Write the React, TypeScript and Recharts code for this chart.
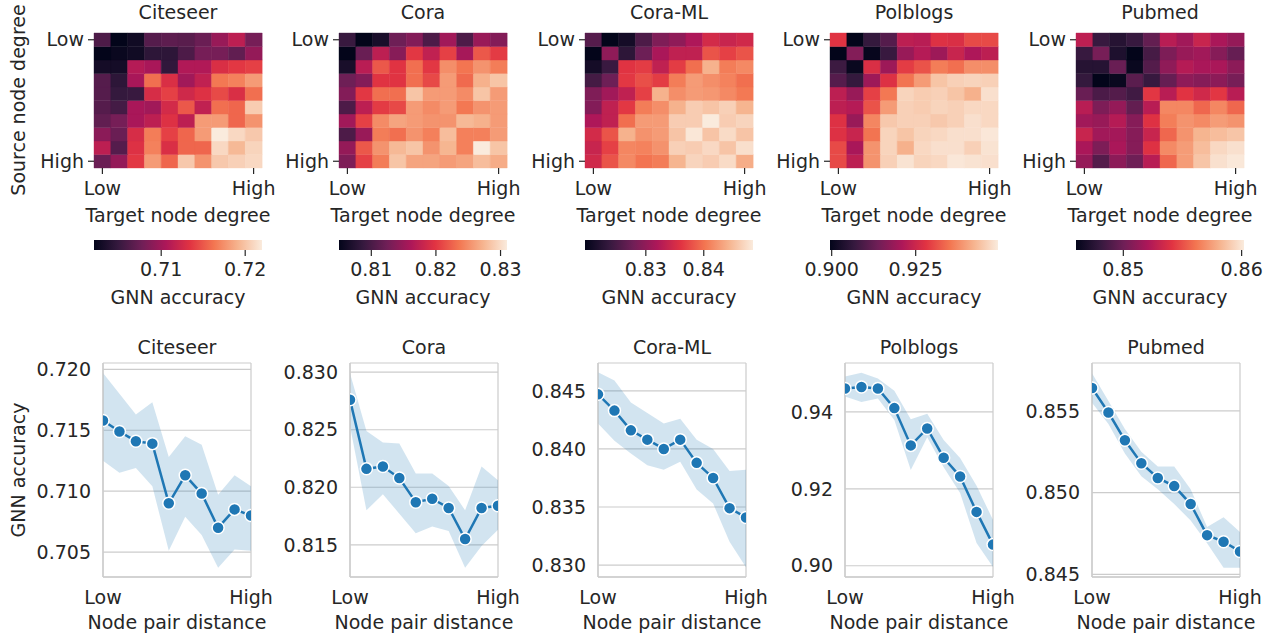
import React from "react";
import {
  BarChart,
  Bar,
  Cell,
  XAxis,
  YAxis,
  ComposedChart,
  Line,
  Area,
  CartesianGrid,
  ReferenceArea,
} from "recharts";

const datasets = ["Citeseer", "Cora", "Cora-ML", "Polblogs", "Pubmed"];

// heatmaps: rows = source node degree (Low -> High), cols = target node degree (Low -> High)
const citeseerHeat = [
  [0.706, 0.702, 0.7028, 0.7064, 0.7068, 0.7066, 0.7074, 0.7096, 0.7114, 0.708],
  [0.702, 0.7024, 0.7028, 0.7044, 0.7044, 0.706, 0.708, 0.708, 0.707, 0.7094],
  [0.703, 0.703, 0.711, 0.7104, 0.7046, 0.7108, 0.7108, 0.713, 0.7136, 0.714],
  [0.7064, 0.7044, 0.7104, 0.716, 0.713, 0.71, 0.7116, 0.7164, 0.7168, 0.718],
  [0.7064, 0.7048, 0.705, 0.7128, 0.714, 0.7124, 0.7132, 0.7144, 0.713, 0.716],
  [0.7064, 0.7056, 0.7104, 0.71, 0.7126, 0.715, 0.7116, 0.716, 0.7156, 0.7204],
  [0.707, 0.708, 0.7104, 0.7114, 0.7132, 0.7114, 0.718, 0.718, 0.7156, 0.7176],
  [0.709, 0.7074, 0.7128, 0.7166, 0.714, 0.7156, 0.718, 0.722, 0.721, 0.7202],
  [0.7114, 0.7064, 0.7132, 0.7168, 0.713, 0.7156, 0.7156, 0.721, 0.7194, 0.7208],
  [0.7074, 0.7094, 0.7136, 0.718, 0.7156, 0.7202, 0.7176, 0.7202, 0.7206, 0.721],
];
const coraHeat = [
  [0.8089, 0.805, 0.8066, 0.8123, 0.8136, 0.8102, 0.8154, 0.8102, 0.8149, 0.8136],
  [0.805, 0.812, 0.8172, 0.8138, 0.8201, 0.8175, 0.8206, 0.8157, 0.8219, 0.8203],
  [0.8066, 0.817, 0.8219, 0.8198, 0.8232, 0.8201, 0.825, 0.8235, 0.8253, 0.824],
  [0.8123, 0.8136, 0.8198, 0.8198, 0.8232, 0.8211, 0.8258, 0.8229, 0.8271, 0.8284],
  [0.8136, 0.8201, 0.8232, 0.8232, 0.8284, 0.8258, 0.8258, 0.8248, 0.8284, 0.8258],
  [0.8102, 0.8172, 0.8203, 0.8211, 0.8258, 0.8248, 0.8258, 0.8237, 0.8253, 0.8258],
  [0.8154, 0.8206, 0.8248, 0.8263, 0.8258, 0.8253, 0.8253, 0.8276, 0.8271, 0.8258],
  [0.8102, 0.8149, 0.824, 0.8232, 0.8253, 0.8242, 0.8279, 0.8242, 0.8242, 0.8258],
  [0.8146, 0.8219, 0.8253, 0.8276, 0.8284, 0.8253, 0.8274, 0.8242, 0.831, 0.8284],
  [0.8133, 0.8206, 0.824, 0.8284, 0.8263, 0.8263, 0.8258, 0.8263, 0.8279, 0.8268],
];
const coraMlHeat = [
  [0.8259, 0.8195, 0.821, 0.8253, 0.8288, 0.8299, 0.832, 0.8349, 0.834, 0.8346],
  [0.8195, 0.8299, 0.823, 0.8276, 0.8317, 0.8334, 0.8334, 0.8381, 0.8369, 0.8381],
  [0.821, 0.8239, 0.836, 0.8366, 0.8334, 0.8366, 0.8398, 0.8442, 0.8407, 0.8415],
  [0.8247, 0.8276, 0.8363, 0.8378, 0.8366, 0.8407, 0.8427, 0.8418, 0.841, 0.8398],
  [0.8288, 0.8311, 0.8334, 0.8369, 0.8442, 0.8418, 0.8427, 0.8424, 0.8415, 0.8404],
  [0.8291, 0.8334, 0.8363, 0.8407, 0.8418, 0.8442, 0.8462, 0.8456, 0.8465, 0.8444],
  [0.832, 0.8334, 0.8398, 0.8427, 0.8427, 0.8462, 0.8462, 0.8485, 0.8462, 0.8468],
  [0.8349, 0.8381, 0.8442, 0.8421, 0.8427, 0.8456, 0.8482, 0.8456, 0.8473, 0.8456],
  [0.834, 0.8369, 0.8413, 0.841, 0.8421, 0.8465, 0.8462, 0.8471, 0.8456, 0.8476],
  [0.8346, 0.8381, 0.8415, 0.8401, 0.8407, 0.8444, 0.8468, 0.8462, 0.8473, 0.8439],
];
const polblogsHeat = [
  [0.928, 0.8995, 0.9065, 0.9105, 0.923, 0.9225, 0.9275, 0.927, 0.9305, 0.9305],
  [0.8995, 0.916, 0.9, 0.907, 0.9185, 0.922, 0.919, 0.9245, 0.921, 0.923],
  [0.9075, 0.9005, 0.927, 0.919, 0.929, 0.9315, 0.936, 0.9345, 0.938, 0.938],
  [0.9105, 0.9065, 0.919, 0.9275, 0.935, 0.9395, 0.9445, 0.946, 0.9465, 0.946],
  [0.923, 0.9185, 0.9295, 0.9355, 0.9465, 0.9455, 0.946, 0.9445, 0.942, 0.948],
  [0.923, 0.922, 0.9315, 0.9395, 0.946, 0.9455, 0.9465, 0.946, 0.947, 0.947],
  [0.9275, 0.9185, 0.937, 0.945, 0.946, 0.946, 0.945, 0.946, 0.948, 0.947],
  [0.9275, 0.9245, 0.935, 0.9465, 0.9445, 0.9465, 0.947, 0.948, 0.948, 0.949],
  [0.9305, 0.9205, 0.9385, 0.9465, 0.942, 0.947, 0.948, 0.948, 0.946, 0.9485],
  [0.9305, 0.923, 0.9385, 0.946, 0.9485, 0.9465, 0.947, 0.949, 0.9485, 0.948],
];
const pubmedHeat = [
  [0.8527, 0.8481, 0.8474, 0.8481, 0.8496, 0.8525, 0.8517, 0.8531, 0.852, 0.8513],
  [0.8481, 0.8503, 0.8471, 0.846, 0.8486, 0.8505, 0.8514, 0.8517, 0.8508, 0.8497],
  [0.8474, 0.8474, 0.8498, 0.8463, 0.8491, 0.8511, 0.8524, 0.852, 0.852, 0.851],
  [0.848, 0.846, 0.8463, 0.8493, 0.8481, 0.8497, 0.8511, 0.8508, 0.851, 0.8503],
  [0.8498, 0.8488, 0.8491, 0.8484, 0.8542, 0.8525, 0.8541, 0.8534, 0.8542, 0.8525],
  [0.8525, 0.8505, 0.8513, 0.8496, 0.8525, 0.8567, 0.8567, 0.8557, 0.8567, 0.8557],
  [0.8517, 0.8514, 0.8524, 0.8508, 0.854, 0.8564, 0.8571, 0.8568, 0.8574, 0.8571],
  [0.8531, 0.8517, 0.8518, 0.8508, 0.8531, 0.8557, 0.8571, 0.8582, 0.8585, 0.8588],
  [0.852, 0.8505, 0.852, 0.8508, 0.854, 0.8568, 0.8574, 0.8585, 0.8595, 0.8598],
  [0.8513, 0.8491, 0.851, 0.85, 0.8525, 0.8557, 0.8574, 0.8588, 0.8598, 0.8601],
];
const heatmaps = [citeseerHeat, coraHeat, coraMlHeat, polblogsHeat, pubmedHeat];

const cbarMin = [0.702, 0.805, 0.8195, 0.8995, 0.846];
const cbarMax = [0.722, 0.831, 0.8485, 0.9495, 0.8602];
const cbarTicks = [
  [0.71, 0.72],
  [0.81, 0.82, 0.83],
  [0.83, 0.84],
  [0.9, 0.925],
  [0.85, 0.86],
];
const cbarDecimals = [2, 2, 2, 3, 2];

// accuracy vs node pair distance (Low -> High), mean with confidence band
const citeseerMean = [0.7158, 0.7149, 0.7141, 0.7139, 0.709, 0.7113, 0.7098, 0.707, 0.7085, 0.708];
const citeseerLo = [0.7125, 0.7115, 0.7119, 0.7104, 0.7051, 0.7079, 0.7064, 0.7037, 0.7052, 0.7051];
const citeseerHi = [0.7197, 0.718, 0.7163, 0.7173, 0.7128, 0.7145, 0.7138, 0.7097, 0.7113, 0.7104];
const coraMean = [0.8276, 0.8216, 0.8218, 0.8208, 0.8187, 0.819, 0.8182, 0.8155, 0.8182, 0.8184];
const coraLo = [0.8253, 0.818, 0.8194, 0.8177, 0.816, 0.8166, 0.8162, 0.813, 0.8149, 0.8163];
const coraHi = [0.8299, 0.8249, 0.8239, 0.8238, 0.8212, 0.8212, 0.8201, 0.818, 0.8218, 0.8206];
const coraMlMean = [0.8447, 0.8433, 0.8416, 0.8408, 0.84, 0.8408, 0.8388, 0.8375, 0.8349, 0.8341];
const coraMlLo = [0.8422, 0.8407, 0.8396, 0.8386, 0.8382, 0.8389, 0.8365, 0.8353, 0.832, 0.8298];
const coraMlHi = [0.8466, 0.8459, 0.844, 0.8431, 0.8422, 0.8426, 0.8408, 0.84, 0.8381, 0.8382];
const polblogsMean = [0.9461, 0.9465, 0.9461, 0.941, 0.9313, 0.9357, 0.9281, 0.9232, 0.914, 0.9055];
const polblogsLo = [0.944, 0.9426, 0.9435, 0.9379, 0.9249, 0.9334, 0.9256, 0.9189, 0.9059, 0.8997];
const polblogsHi = [0.9492, 0.9502, 0.9487, 0.9455, 0.9381, 0.9395, 0.9327, 0.928, 0.9208, 0.9119];
const pubmedMean = [0.8564, 0.8549, 0.8532, 0.8518, 0.8509, 0.8504, 0.8493, 0.8474, 0.847, 0.8464];
const pubmedLo = [0.8555, 0.8542, 0.8524, 0.851, 0.8502, 0.8493, 0.8483, 0.8469, 0.8454, 0.8454];
const pubmedHi = [0.8573, 0.8556, 0.8539, 0.8525, 0.8516, 0.8516, 0.8502, 0.8479, 0.8485, 0.8476];

const lineMeans = [citeseerMean, coraMean, coraMlMean, polblogsMean, pubmedMean];
const lineLows = [citeseerLo, coraLo, coraMlLo, polblogsLo, pubmedLo];
const lineHighs = [citeseerHi, coraHi, coraMlHi, polblogsHi, pubmedHi];
const lineDomains = [
  [0.70295, 0.72052],
  [0.8122, 0.8308],
  [0.82897, 0.8474],
  [0.89707, 0.95273],
  [0.84484, 0.85793],
];
const lineTicks = [
  [0.705, 0.71, 0.715, 0.72],
  [0.815, 0.82, 0.825, 0.83],
  [0.83, 0.835, 0.84, 0.845],
  [0.9, 0.92, 0.94],
  [0.845, 0.85, 0.855],
];
const lineDecimals = [3, 3, 3, 2, 3];

// layout
const FONT = "'DejaVu Sans', sans-serif";
const FS = 19;
const INK = "#262626";
const BLUE = "#1f77b4";
const heatLeft = [94, 339, 585, 830, 1076];
const HEAT_W = 168;
const HEAT_H = 135;
const HEAT_TOP = 33;
const lineLeft = [103, 350, 598, 845, 1092];
const LINE_W = 148;
const LINE_TOP = 363;
const LINE_H = 214;

const ROCKET = ["#03051a", "#35193e", "#701f57", "#ad1759", "#e13342", "#f37651", "#f6b48f", "#faebdd"];

const hex = (h: string) => [1, 3, 5].map((i) => parseInt(h.slice(i, i + 2), 16));

function rocket(t: number) {
  const u = Math.max(0, Math.min(1, t)) * (ROCKET.length - 1);
  const i = Math.min(ROCKET.length - 2, Math.floor(u));
  const f = u - i;
  const a = hex(ROCKET[i]);
  const b = hex(ROCKET[i + 1]);
  const c = a.map((v, k) => Math.round(v + (b[k] - v) * f));
  return `rgb(${c[0]},${c[1]},${c[2]})`;
}

const rows = [9, 8, 7, 6, 5, 4, 3, 2, 1, 0];
const heatCols = [0, 1, 2, 3, 4, 5, 6, 7, 8, 9].map((c) => {
  const o: Record<string, number> = { col: c };
  rows.forEach((r) => (o[`r${r}`] = 1));
  return o;
});

const Txt = ({ x, y, rotate, children }: any) => (
  <div
    style={{
      position: "absolute",
      left: x,
      top: y,
      transform: `translate(-50%, -50%)${rotate ? " rotate(-90deg)" : ""}`,
      whiteSpace: "nowrap",
      fontFamily: FONT,
      fontSize: FS,
      lineHeight: 1,
      color: INK,
    }}
  >
    {children}
  </div>
);

const HeatTick = (props: any) => {
  const { x, y, payload } = props;
  const v = payload.value;
  if (v !== 0 && v !== 9) return <g />;
  return (
    <g>
      <line x1={x} x2={x} y1={y} y2={y + 6} stroke={INK} strokeWidth={1.2} />
      <text x={x} y={y + 20} textAnchor="middle" dominantBaseline="central" fontSize={FS} fill={INK} fontFamily={FONT}>
        {v === 0 ? "Low" : "High"}
      </text>
    </g>
  );
};

const tickStyle = { fontSize: FS, fill: INK, fontFamily: FONT };

function Heatmap({ i }: { i: number }) {
  const m = heatmaps[i];
  const lo = cbarMin[i];
  const hi = cbarMax[i];
  return (
    <div style={{ position: "absolute", left: heatLeft[i] - 74, top: 0 }}>
      <BarChart
        width={74 + HEAT_W + 24}
        height={HEAT_TOP + HEAT_H + 62}
        data={heatCols}
        margin={{ top: HEAT_TOP, right: 24, bottom: 0, left: 0 }}
        barCategoryGap={0}
        barGap={0}
      >
        <XAxis dataKey="col" height={62} interval={0} tickSize={0} tickMargin={0} tickLine={false} axisLine={false} tick={<HeatTick />} />
        <YAxis
          type="number"
          width={74}
          domain={[0, 10]}
          ticks={[0.5, 9.5]}
          tickFormatter={(v: number) => (v > 5 ? "Low" : "High")}
          axisLine={false}
          tickLine={{ stroke: INK, strokeWidth: 1.2 }}
          tickSize={6}
          tickMargin={4}
          tick={tickStyle}
        />
        {rows.map((r) => (
          <Bar key={r} dataKey={`r${r}`} stackId="h" isAnimationActive={false}>
            {heatCols.map((d, c) => {
              const col = rocket((m[r][c] - lo) / (hi - lo));
              return <Cell key={c} fill={col} stroke={col} strokeWidth={0.4} />;
            })}
          </Bar>
        ))}
      </BarChart>
    </div>
  );
}

function Colorbar({ i }: { i: number }) {
  const lo = cbarMin[i];
  const hi = cbarMax[i];
  const id = `cb${i}`;
  return (
    <div style={{ position: "absolute", left: heatLeft[i] - 34, top: 230 }}>
      <ComposedChart
        width={HEAT_W + 68}
        height={80}
        data={[{ x: lo, y: 0 }, { x: hi, y: 1 }]}
        margin={{ top: 10, right: 34, bottom: 0, left: 34 }}
      >
        <defs>
          <linearGradient id={id} x1="0" x2="1" y1="0" y2="0">
            {ROCKET.map((c, k) => (
              <stop key={k} offset={k / (ROCKET.length - 1)} stopColor={c} />
            ))}
          </linearGradient>
        </defs>
        <XAxis
          dataKey="x"
          type="number"
          domain={[lo, hi]}
          ticks={cbarTicks[i]}
          allowDataOverflow
          height={60}
          axisLine={false}
          tickLine={{ stroke: INK, strokeWidth: 1.2 }}
          tickSize={6}
          tickMargin={7}
          tick={tickStyle}
          tickFormatter={(v: number) => v.toFixed(cbarDecimals[i])}
        />
        <YAxis type="number" domain={[0, 1]} hide />
        <ReferenceArea x1={lo} x2={hi} y1={0} y2={1} fill={`url(#${id})`} fillOpacity={1} stroke="none" />
        <Line dataKey="y" stroke="none" dot={false} activeDot={false} isAnimationActive={false} />
      </ComposedChart>
    </div>
  );
}

function LinePanel({ i }: { i: number }) {
  const data = lineMeans[i].map((v, k) => ({
    x: k,
    mean: v,
    band: [lineLows[i][k], lineHighs[i][k]],
  }));
  return (
    <div style={{ position: "absolute", left: lineLeft[i] - 84, top: LINE_TOP - 33 }}>
      <ComposedChart
        width={84 + LINE_W + 26}
        height={33 + LINE_H + 53}
        data={data}
        margin={{ top: 33, right: 26, bottom: 0, left: 0 }}
      >
        <CartesianGrid stroke="#cccccc" strokeWidth={1.2} />
        <XAxis
          dataKey="x"
          type="number"
          domain={[0, 9]}
          ticks={[0, 9]}
          allowDataOverflow
          height={53}
          axisLine={{ stroke: "#cccccc", strokeWidth: 1.3 }}
          tickLine={false}
          tickSize={0}
          tickMargin={14}
          tick={tickStyle}
          tickFormatter={(v: number) => (v === 0 ? "Low" : "High")}
        />
        <YAxis
          type="number"
          width={84}
          domain={lineDomains[i]}
          ticks={lineTicks[i]}
          allowDataOverflow
          axisLine={{ stroke: "#cccccc", strokeWidth: 1.3 }}
          tickLine={false}
          tickSize={0}
          tickMargin={12}
          tick={tickStyle}
          tickFormatter={(v: number) => v.toFixed(lineDecimals[i])}
        />
        <Area dataKey="band" fill={BLUE} fillOpacity={0.2} stroke="none" isAnimationActive={false} activeDot={false} />
        <Line
          dataKey="mean"
          stroke={BLUE}
          strokeWidth={2.5}
          dot={{ r: 6, fill: BLUE, stroke: "#ffffff", strokeWidth: 1.5 }}
          activeDot={false}
          isAnimationActive={false}
        />
      </ComposedChart>
    </div>
  );
}

export default function App() {
  return (
    <div style={{ position: "absolute", left: 0, top: 0, width: 1276, height: 636, background: "#fff", overflow: "hidden" }}>
      {datasets.map((name, i) => (
        <React.Fragment key={name}>
          <Heatmap i={i} />
          <Colorbar i={i} />
          <LinePanel i={i} />
          <Txt x={heatLeft[i] + HEAT_W / 2} y={12}>{name}</Txt>
          <Txt x={heatLeft[i] + HEAT_W / 2} y={215}>Target node degree</Txt>
          <Txt x={heatLeft[i] + HEAT_W / 2} y={297}>GNN accuracy</Txt>
          <Txt x={lineLeft[i] + LINE_W / 2} y={347}>{name}</Txt>
          <Txt x={lineLeft[i] + LINE_W / 2} y={622}>Node pair distance</Txt>
        </React.Fragment>
      ))}
      <Txt x={18} y={100} rotate>Source node degree</Txt>
      <Txt x={18} y={470} rotate>GNN accuracy</Txt>
    </div>
  );
}
